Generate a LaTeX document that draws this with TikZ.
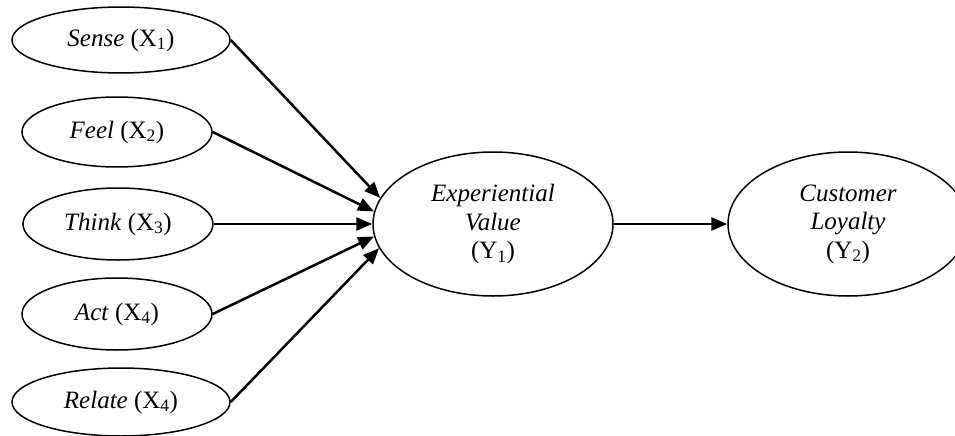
\documentclass[tikz,border=0pt]{standalone}
\usepackage{fontspec}
\setmainfont{Liberation Serif}
\usetikzlibrary{shapes.geometric,arrows.meta}
\begin{document}
\begin{tikzpicture}[x=1pt,y=-1pt,
  construct/.style={draw=black,line width=1.5pt,ellipse,inner sep=0pt,align=center,
    font=\fontsize{25}{28.5}\selectfont},
  link/.style={line width=2.5pt,-{Triangle[length=16pt,width=13pt]}}]
\useasboundingbox (0,0) rectangle (955,436);
\node[construct,minimum width=218pt,minimum height=66pt] (sense) at (121,40) {\textit{Sense} (X\textsubscript{1})};
\node[construct,minimum width=190pt,minimum height=70pt] (feel) at (117,132) {\textit{Feel} (X\textsubscript{2})};
\node[construct,minimum width=190pt,minimum height=72pt] (think) at (118,224) {\textit{Think} (X\textsubscript{3})};
\node[construct,minimum width=190pt,minimum height=72pt] (act) at (117,314) {\textit{Act} (X\textsubscript{4})};
\node[construct,minimum width=218pt,minimum height=68pt] (relate) at (121,402) {\textit{Relate} (X\textsubscript{4})};
\node[construct,minimum width=240pt,minimum height=144pt] (exp) at (493,224) {\textit{Experiential}\\\textit{Value}\\(Y\textsubscript{1})};
\node[construct,minimum width=240pt,minimum height=144pt] (cust) at (848,224) {\textit{Customer}\\\textit{Loyalty}\\(Y\textsubscript{2})};
\draw[link] (sense.east) -- (exp.167);
\draw[link] (feel.east) -- (exp.174);
\draw[link] (think.east) -- (exp.180);
\draw[link] (act.east) -- (exp.186);
\draw[link] (relate.east) -- (exp.192);
\draw[link] (exp.east) -- (cust.west);
\end{tikzpicture}
\end{document}
